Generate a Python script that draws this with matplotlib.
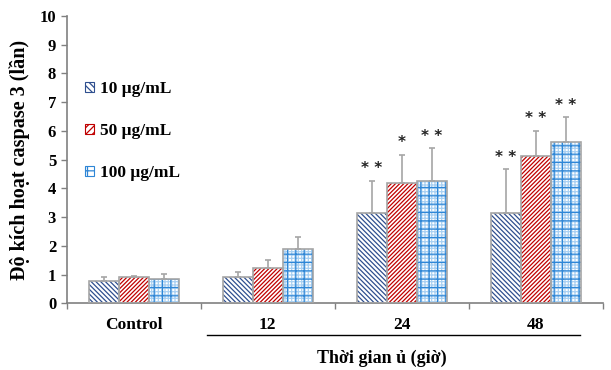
import matplotlib
matplotlib.use("Agg")
import matplotlib.pyplot as plt
import matplotlib.transforms as mtransforms
from matplotlib.patches import Patch
import numpy as np

categories = ["Control", "12", "24", "48"]
series = ["10 μg/mL", "50 μg/mL", "100 μg/mL"]
vals_10 = [0.78, 0.93, 3.14, 3.14]
vals_50 = [0.92, 1.22, 4.20, 5.12]
vals_100 = [0.86, 1.88, 4.27, 5.61]
err_10 = [0.15, 0.15, 1.13, 1.53]
err_50 = [0.05, 0.30, 0.97, 0.89]
err_100 = [0.15, 0.42, 1.13, 0.86]
stars_10 = ["", "", "* *", "* *"]
stars_50 = ["", "", "*", "* *"]
stars_100 = ["", "", "* *", "* *"]

plt.rcParams['font.family'] = ['Liberation Serif', 'DejaVu Serif']
plt.rcParams['font.weight'] = 'bold'
plt.rcParams['hatch.linewidth'] = 0.9

fig = plt.figure(figsize=(6.11, 3.70), dpi=100)
ax = fig.add_axes([0.109, 0.180, 0.878, 0.777])

x = np.arange(len(categories))
w = 0.224
gray = "#a6a6a6"
styles = [
    dict(color="#2f4f8f", hatch="\\\\\\\\\\\\\\"),
    dict(color="#c00000", hatch="////////"),
    dict(color="#2e86d6", hatch="++"),
]
all_vals = [vals_10, vals_50, vals_100]
all_err = [err_10, err_50, err_100]
all_stars = [stars_10, stars_50, stars_100]

for i, (v, e, s, st) in enumerate(zip(all_vals, all_err, all_stars, styles)):
    pos = x + (i - 1) * w
    if i == 2:
        ax.bar(pos, v, w, facecolor="white", edgecolor="#a9d0f2", hatch="+++++", linewidth=0, zorder=2)
        ax.bar(pos, v, w, fill=False, edgecolor=st["color"], hatch="++", linewidth=0, zorder=2)
    else:
        ax.bar(pos, v, w, facecolor="white", edgecolor=st["color"], hatch=st["hatch"], linewidth=0, zorder=2)
    ax.bar(pos, v, w, fill=False, edgecolor=gray, linewidth=1.2, zorder=3)
    ax.errorbar(pos, v, yerr=[np.zeros(len(e)), e], fmt="none", ecolor=gray,
                elinewidth=1.2, capsize=2.5, capthick=1.2, zorder=3)
    for p, vv, ee, ss in zip(pos, v, e, s):
        if ss:
            ax.text(p, vv + ee + 0.15, ss, ha="center", va="bottom", fontsize=11,
                    color="#222222", fontweight="bold", family="DejaVu Sans")

ax.set_xlim(-0.5, 3.5)
ax.set_ylim(0, 10)
ax.set_yticks(range(0, 11))
ax.tick_params(axis="y", labelsize=12, colors="#808080", labelcolor="black", length=4, width=1)
ax.set_xticks(x)
ax.set_xticklabels(categories, fontsize=12.5, fontweight="bold")
ax.tick_params(axis="x", length=0, pad=10)
ax.set_xticks([-0.5, 0.5, 1.5, 2.5, 3.5], minor=True)
ax.tick_params(axis="x", which="minor", length=4, width=1, colors="#808080")
for side in ["top", "right"]:
    ax.spines[side].set_visible(False)
for side in ["left", "bottom"]:
    ax.spines[side].set_color("#808080")
    ax.spines[side].set_linewidth(1.2)
for lab in ax.get_yticklabels():
    lab.set_fontweight("bold")

ax.set_ylabel("Độ kích hoạt caspase 3 (lần)", fontsize=14.5, fontweight="bold", labelpad=7)

trans = mtransforms.blended_transform_factory(ax.transData, ax.transAxes)
ax.plot([0.545, 3.33], [-0.110, -0.110], color="black", linewidth=1.0, transform=trans, clip_on=False)
ax.text(1.853, -0.19, "Thời gian ủ (giờ)", transform=trans, ha="center", va="center",
        fontsize=13, fontweight="bold")

handles = [
    Patch(facecolor="white", edgecolor=styles[0]["color"], hatch="\\\\\\\\\\", linewidth=0.8),
    Patch(facecolor="white", edgecolor=styles[1]["color"], hatch="/////", linewidth=0.8),
    Patch(facecolor="white", edgecolor=styles[2]["color"], hatch="++", linewidth=0.8),
]
ax.legend(handles, series, loc="upper left", bbox_to_anchor=(0.005, 0.828), frameon=False,
          handlelength=0.55, handleheight=0.55, handletextpad=0.3, labelspacing=1.5,
          prop=dict(size=12.5, weight="bold"))

fig.savefig("out.png", dpi=100)
